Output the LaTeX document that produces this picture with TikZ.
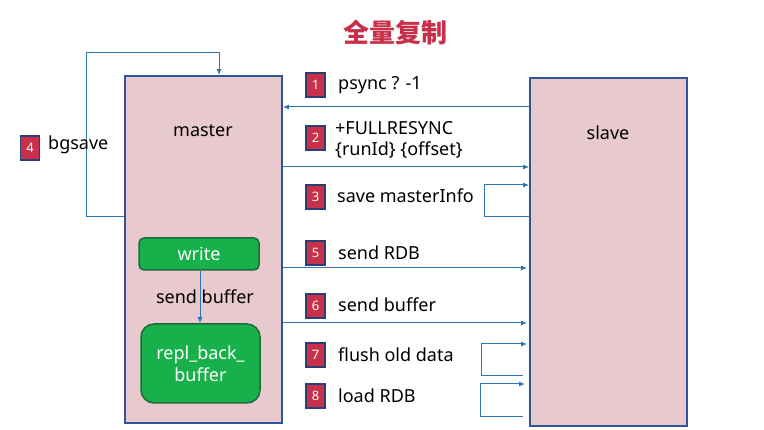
\documentclass[tikz,border=0pt]{standalone}
\usepackage{fontspec}
\setmainfont{Noto Sans}
\newfontfamily\cjk{Noto Sans CJK SC}
\usetikzlibrary{arrows.meta}
\definecolor{boxpink}{HTML}{E8C9CD}
\definecolor{boxblue}{HTML}{2F5597}
\definecolor{arrblue}{HTML}{2E75B6}
\definecolor{badgered}{HTML}{C9304A}
\definecolor{badgeline}{HTML}{2A3F7A}
\definecolor{titlered}{HTML}{C8304A}
\definecolor{grfill}{HTML}{17B04A}
\definecolor{grline}{HTML}{1D6B3C}
\tikzset{
  bigbox/.style={draw=boxblue, fill=boxpink, line width=1.8pt, inner sep=0pt},
  badge/.style={draw=badgeline, fill=badgered, line width=1.6pt, minimum width=19pt, minimum height=24pt, inner sep=0pt, text=white, font=\fontsize{13}{15}\selectfont},
  lbl/.style={anchor=west, inner sep=0pt, font=\fontsize{18}{21}\selectfont, align=left},
  conn/.style={draw=arrblue, line width=1pt},
  arr/.style={conn, -{Latex[length=6pt,width=5pt]}},
  greenbox/.style={draw=grline, fill=grfill, line width=1.5pt, text=white, font=\fontsize{18}{21}\selectfont, inner sep=0pt, align=center}
}
\begin{document}
\begin{tikzpicture}[x=1pt,y=-1pt]
\useasboundingbox (0,0) rectangle (764,430);
\node[font=\cjk\bfseries\fontsize{26}{30}\selectfont, text=titlered] (title) at (395,33) {全量复制};
% boxes
\node[bigbox, minimum width=157pt, minimum height=347pt] (master) at (203.5,249.5) {};
\node[bigbox, minimum width=157pt, minimum height=348pt] (slave) at (608.5,252) {};
\node[font=\fontsize{18}{21}\selectfont] (mlabel) at (203,131) {master};
\node[font=\fontsize{18}{21}\selectfont] (slabel) at (608,133) {slave};
% green boxes
\node[greenbox, rounded corners=5pt, minimum width=120pt, minimum height=32pt] (write) at (199,254) {write};
\node[greenbox, rounded corners=13pt, minimum width=119pt, minimum height=79pt] (buf) at (200.5,363.5) {repl\_back\_\\[1pt]buffer};
\draw[arr] (write.south -| 200,0) -- (buf.north -| 200,0);
\node[font=\fontsize{18}{21}\selectfont] (sbl) at (205,297) {send buffer};
% bgsave loop
\coordinate (lb) at (86,217);
\coordinate (lt) at (86,53);
\coordinate (rt) at (219,53);
\draw[arr] (master.west |- lb) -- (lb) -- (lt) -- (rt) -- (master.north -| rt);
\node[badge] (b4) at (30,148) {4};
\node[lbl] (t4) at (48,145) {bgsave};
% 1
\coordinate (y1) at (0,107);
\draw[arr] (slave.west |- y1) -- (master.east |- y1);
\node[badge] (b1) at (315.5,85) {1};
\node[lbl] (t1) at (338,85) {psync ? -1};
% 2
\coordinate (y2) at (0,167);
\draw[arr] (master.east |- y2) -- (slave.west |- y2);
\node[badge] (b2) at (315.5,138) {2};
\node[lbl] (t2) at (335,140) {+FULLRESYNC\\[0pt]\{runId\} \{offset\}};
% 3
\coordinate (l3b) at (484,217);
\coordinate (l3t) at (484,185);
\draw[arr] (slave.west |- l3b) -- (l3b) -- (l3t) -- (slave.west |- l3t);
\node[badge] (b3) at (315.5,197) {3};
\node[lbl] (t3) at (337,196) {save masterInfo};
% 5
\coordinate (y5) at (0,268);
\draw[arr] (master.east |- y5) -- ([xshift=-2pt]slave.west |- y5);
\node[badge] (b5) at (315.5,253) {5};
\node[lbl] (t5) at (338,253) {send RDB};
% 6
\coordinate (y6) at (0,323);
\draw[arr] (master.east |- y6) -- ([xshift=-2pt]slave.west |- y6);
\node[badge] (b6) at (315.5,306) {6};
\node[lbl] (t6) at (338,305) {send buffer};
% 7
\coordinate (l7b) at (481,376);
\coordinate (l7t) at (481,344);
\coordinate (e7b) at (523,376);
\coordinate (e7t) at (527,344);
\draw[arr] (e7b) -- (l7b) -- (l7t) -- (e7t);
\node[badge] (b7) at (315.5,355) {7};
\node[lbl] (t7) at (338,355) {flush old data};
% 8
\coordinate (l8b) at (480,417);
\coordinate (l8t) at (480,384);
\coordinate (e8b) at (523,417);
\coordinate (e8t) at (525,384);
\draw[arr] (e8b) -- (l8b) -- (l8t) -- (e8t);
\node[badge] (b8) at (315.5,396) {8};
\node[lbl] (t8) at (338,396) {load RDB};
\end{tikzpicture}
\end{document}
